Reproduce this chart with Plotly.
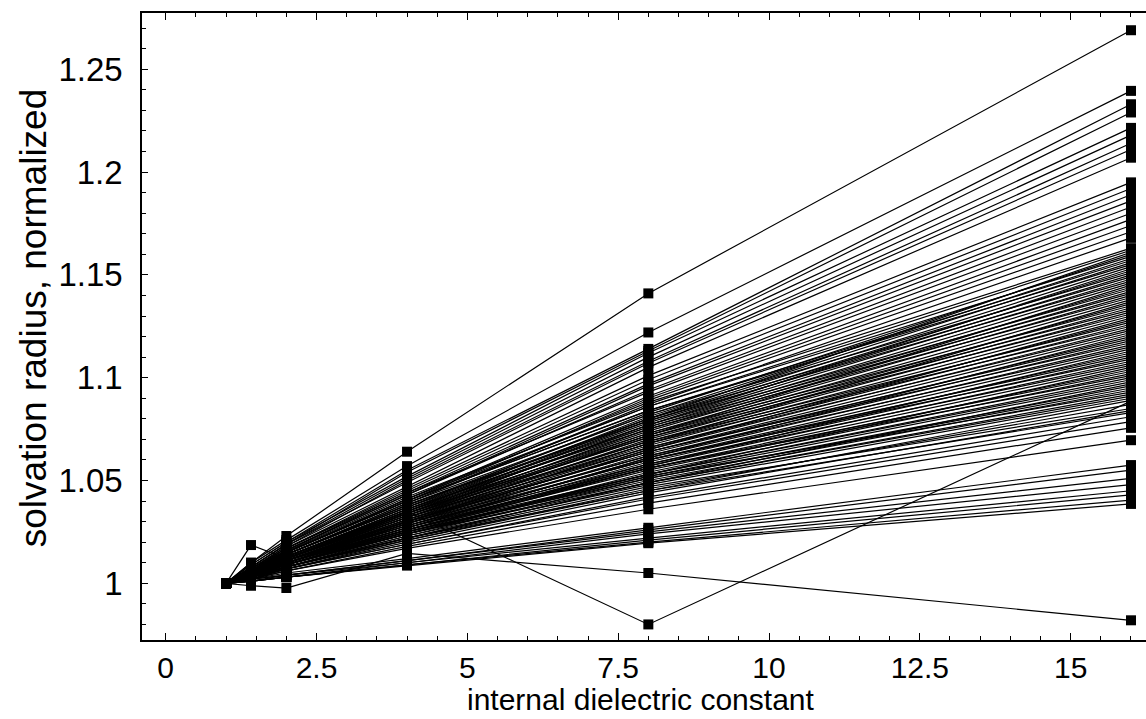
import plotly.graph_objects as go

# internal dielectric constants (x positions)
eps = [1, 1.414, 2, 4, 8, 16]

# normalized solvation radius for each molecule at each dielectric constant
r_eps1_4 = [1.010, 1.010, 1.009, 1.008, 1.009, 1.008, 1.007, 1.008, 1.007, 1.007,
            1.006, 1.007, 1.006, 1.006, 1.007, 1.006, 1.005, 1.006, 1.006, 1.006,
            1.005, 1.006, 1.005, 1.005, 1.006, 1.005, 1.004, 1.005, 1.005, 1.004,
            1.005, 1.004, 1.005, 1.004, 1.005, 1.004, 1.004, 1.005, 1.004, 1.004,
            1.005, 1.004, 1.004, 1.004, 1.003, 1.004, 1.004, 1.003, 1.004, 1.003,
            1.004, 1.003, 1.003, 1.004, 1.003, 1.003, 1.003, 1.003, 1.002, 1.003,
            1.002, 1.002, 1.002, 1.002, 1.001, 1.002, 1.001, 1.001, 1.001, 1.001,
            0.9988, 1.0186, 1.004, 1.006, 1.004, 1.006, 1.004, 1.005, 1.003, 1.005,
            1.003, 1.005, 1.003, 1.004, 1.003, 1.004, 1.003, 1.004, 1.002, 1.004,
            1.002, 1.003,
            1.0065, 1.006, 1.006, 1.006, 1.006, 1.006, 1.006, 1.005, 1.005, 1.005,
            1.005, 1.005, 1.005, 1.004, 1.004, 1.004, 1.004, 1.004, 1.004, 1.003]
r_eps2 = [1.023, 1.021, 1.020, 1.019, 1.020, 1.019, 1.018, 1.019, 1.018, 1.017,
          1.017, 1.016, 1.016, 1.016, 1.017, 1.015, 1.015, 1.015, 1.014, 1.015,
          1.014, 1.014, 1.013, 1.014, 1.013, 1.013, 1.012, 1.013, 1.012, 1.012,
          1.012, 1.011, 1.012, 1.011, 1.012, 1.011, 1.011, 1.011, 1.010, 1.011,
          1.011, 1.010, 1.010, 1.011, 1.010, 1.009, 1.010, 1.009, 1.010, 1.009,
          1.009, 1.009, 1.008, 1.009, 1.008, 1.008, 1.008, 1.007, 1.007, 1.007,
          1.006, 1.006, 1.005, 1.004, 1.004, 1.004, 1.003, 1.003, 1.003, 1.003,
          0.9977, 1.012, 1.012, 1.015, 1.012, 1.014, 1.011, 1.013, 1.010, 1.012,
          1.010, 1.012, 1.009, 1.011, 1.009, 1.010, 1.008, 1.010, 1.008, 1.009,
          1.007, 1.008,
          1.0155, 1.015, 1.015, 1.014, 1.014, 1.014, 1.013, 1.013, 1.012, 1.012,
          1.012, 1.011, 1.011, 1.011, 1.010, 1.010, 1.009, 1.009, 1.009, 1.008]
r_eps4 = [1.064, 1.057, 1.055, 1.054, 1.052, 1.051, 1.050, 1.049, 1.047, 1.046,
          1.045, 1.044, 1.043, 1.043, 1.044, 1.041, 1.040, 1.041, 1.039, 1.040,
          1.037, 1.038, 1.036, 1.037, 1.035, 1.036, 1.034, 1.035, 1.033, 1.034,
          1.033, 1.032, 1.033, 1.031, 1.032, 1.030, 1.031, 1.030, 1.029, 1.030,
          1.028, 1.029, 1.027, 1.028, 1.027, 1.026, 1.027, 1.025, 1.026, 1.024,
          1.025, 1.024, 1.023, 1.024, 1.022, 1.023, 1.021, 1.020, 1.019, 1.019,
          1.018, 1.017, 1.012, 1.011, 1.011, 1.010, 1.010, 1.009, 1.009, 1.0086,
          1.0145, 1.035, 1.035, 1.040, 1.034, 1.038, 1.032, 1.036, 1.030, 1.034,
          1.029, 1.032, 1.027, 1.030, 1.026, 1.028, 1.024, 1.026, 1.022, 1.025,
          1.021, 1.022,
          1.042, 1.041, 1.040, 1.039, 1.038, 1.037, 1.036, 1.035, 1.034, 1.033,
          1.032, 1.031, 1.030, 1.029, 1.028, 1.027, 1.026, 1.025, 1.024, 1.022]
r_eps8 = [1.141, 1.122, 1.114, 1.113, 1.112, 1.110, 1.108, 1.107, 1.105, 1.101,
          1.099, 1.097, 1.096, 1.094, 1.093, 1.091, 1.090, 1.089, 1.087, 1.086,
          1.083, 1.082, 1.081, 1.080, 1.079, 1.078, 1.077, 1.076, 1.075, 1.074,
          1.073, 1.072, 1.071, 1.070, 1.069, 1.068, 1.067, 1.066, 1.065, 1.064,
          1.063, 1.062, 1.061, 1.060, 1.059, 1.058, 1.057, 1.056, 1.055, 1.054,
          1.053, 1.052, 1.051, 1.050, 1.049, 1.048, 1.046, 1.044, 1.042, 1.041,
          1.039, 1.036, 1.027, 1.026, 1.025, 1.024, 1.022, 1.021, 1.020, 1.0195,
          1.005, 0.980, 1.080, 1.084, 1.077, 1.080, 1.072, 1.076, 1.068, 1.072,
          1.065, 1.068, 1.061, 1.064, 1.057, 1.060, 1.053, 1.056, 1.049, 1.052,
          1.045, 1.047,
          1.088, 1.086, 1.084, 1.082, 1.079, 1.077, 1.075, 1.073, 1.071, 1.069,
          1.066, 1.064, 1.062, 1.060, 1.058, 1.056, 1.053, 1.051, 1.049, 1.045]
r_eps16 = [1.269, 1.2395, 1.233, 1.229, 1.2215, 1.218, 1.214, 1.211, 1.207, 1.195,
           1.192, 1.189, 1.186, 1.183, 1.180, 1.177, 1.174, 1.171, 1.168, 1.162,
           1.160, 1.158, 1.156, 1.154, 1.152, 1.150, 1.148, 1.146, 1.144, 1.142,
           1.140, 1.138, 1.136, 1.134, 1.132, 1.130, 1.128, 1.126, 1.124, 1.122,
           1.120, 1.118, 1.116, 1.114, 1.112, 1.110, 1.108, 1.106, 1.104, 1.102,
           1.100, 1.098, 1.096, 1.094, 1.092, 1.090, 1.087, 1.084, 1.081, 1.0786,
           1.0756, 1.0696, 1.0575, 1.055, 1.051, 1.048, 1.045, 1.043, 1.0405, 1.0386,
           0.982, 1.0886, 1.161, 1.157, 1.153, 1.149, 1.145, 1.141, 1.137, 1.133,
           1.129, 1.125, 1.121, 1.117, 1.113, 1.109, 1.105, 1.101, 1.097, 1.093,
           1.089, 1.085,
           1.163, 1.159, 1.155, 1.151, 1.147, 1.143, 1.139, 1.135, 1.131, 1.127,
           1.123, 1.119, 1.115, 1.111, 1.107, 1.103, 1.099, 1.095, 1.091, 1.083]
# every curve is normalized to 1 at the reference dielectric constant of 1
r_eps1 = [1.0] * len(r_eps16)

x_tickvals = [0, 2.5, 5, 7.5, 10, 12.5, 15]
x_ticktext = ["0", "2.5", "5", "7.5", "10", "12.5", "15"]
y_tickvals = [1, 1.05, 1.1, 1.15, 1.2, 1.25]
y_ticktext = ["1", "1.05", "1.1", "1.15", "1.2", "1.25"]

xs, ys = [], []
for row in zip(r_eps1, r_eps1_4, r_eps2, r_eps4, r_eps8, r_eps16):
    xs.extend(eps + [None])
    ys.extend(list(row) + [None])

fig = go.Figure()
fig.add_trace(go.Scatter(
    x=xs, y=ys, mode="lines+markers",
    line=dict(color="black", width=1.2),
    marker=dict(symbol="square", size=10, color="black"),
    connectgaps=False, showlegend=False, hoverinfo="skip",
))

FONT = "Liberation Sans, Arial, sans-serif"
fig.update_layout(
    width=1146, height=719,
    margin=dict(l=142, r=0, t=13, b=79),
    paper_bgcolor="white", plot_bgcolor="white",
    font=dict(family=FONT, color="black", size=33),
    showlegend=False,
)
fig.update_xaxes(
    range=[-0.393, 16.249], showgrid=False, zeroline=False,
    showline=True, linecolor="black", linewidth=1.5, mirror="allticks",
    ticks="inside", ticklen=7, tickwidth=1, tickcolor="black",
    tickvals=x_tickvals, ticktext=x_ticktext,
    tickfont=dict(size=30), ticklabelstandoff=0,
    minor=dict(ticks="inside", ticklen=4, tickwidth=1, tickcolor="black",
               tick0=0, dtick=0.5),
)
fig.update_yaxes(
    range=[0.97242, 1.27738], showgrid=False, zeroline=False,
    showline=True, linecolor="black", linewidth=1.5, mirror=False,
    ticks="inside", ticklen=6, tickwidth=1, tickcolor="black",
    tickvals=y_tickvals, ticktext=y_ticktext,
    tickfont=dict(size=33), ticklabelstandoff=11,
    minor=dict(ticks="inside", ticklen=4, tickwidth=1, tickcolor="black",
               tick0=1, dtick=0.01),
)
fig.add_annotation(
    text="internal dielectric constant", xref="paper", yref="paper",
    x=0.497, y=0, xanchor="center", yanchor="top", yshift=-42,
    showarrow=False, font=dict(size=30), borderpad=0,
)
fig.add_annotation(
    text="solvation radius, normalized", xref="paper", yref="paper",
    x=0, y=0.513, xanchor="center", yanchor="middle", xshift=-109,
    textangle=-90, showarrow=False, font=dict(size=37),
)

fig.write_html("out.html")
